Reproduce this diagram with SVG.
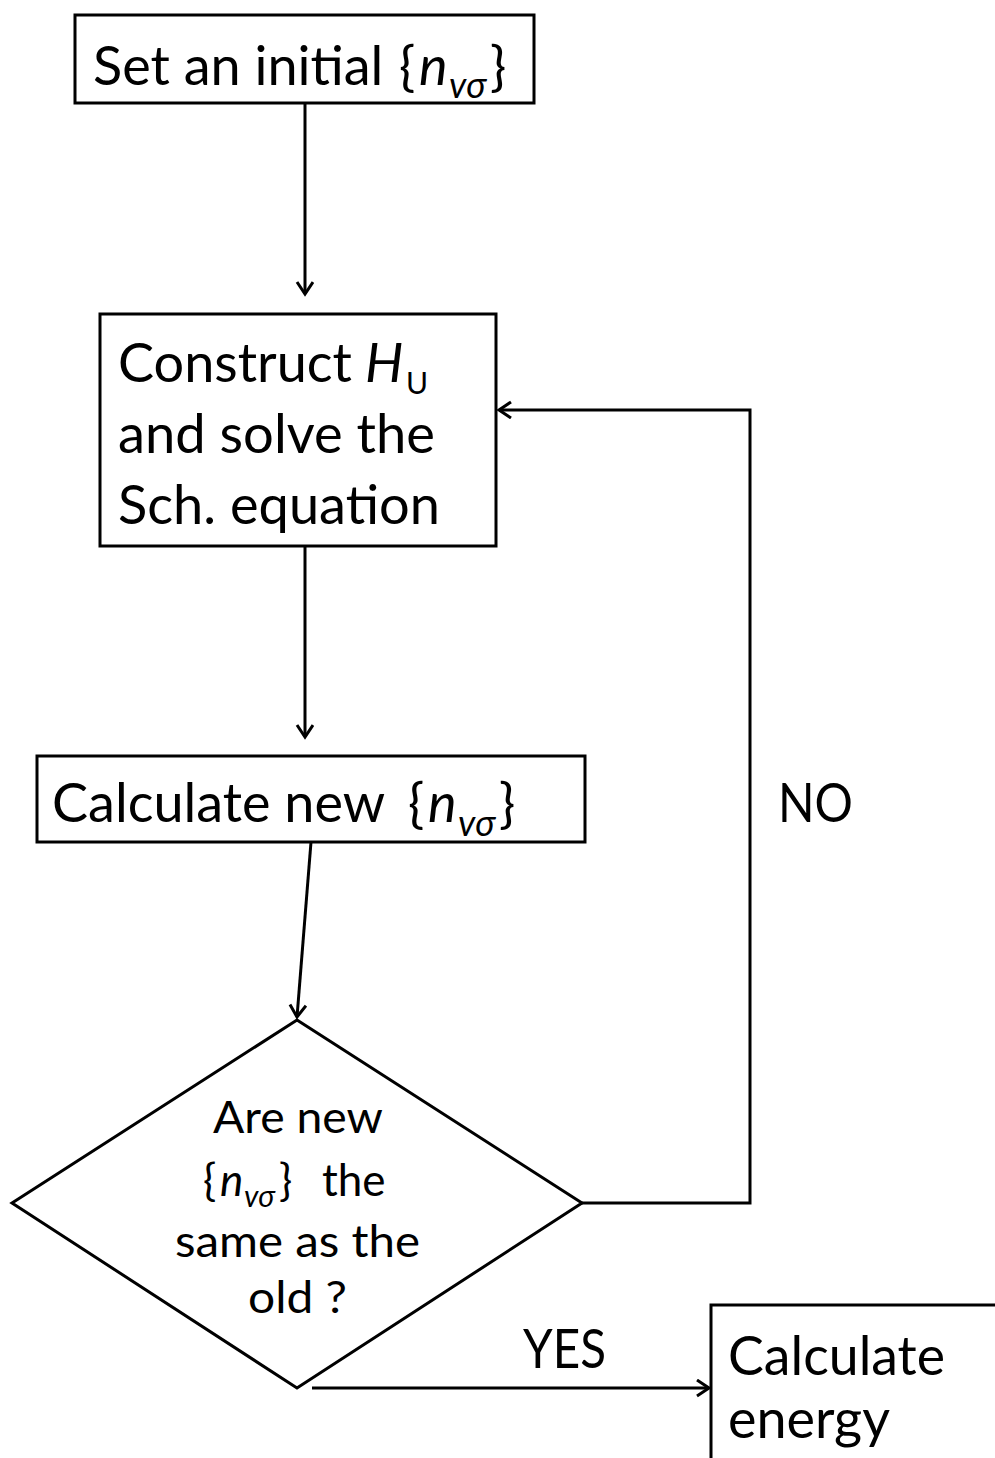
<svg xmlns="http://www.w3.org/2000/svg" width="995" height="1458" viewBox="0 0 995 1458">
<defs>
<style>
.box{fill:#fff;stroke:#000;stroke-width:3}
.ln{fill:none;stroke:#000;stroke-width:3}
.t{font-family:Lato,"Open Sans","Liberation Sans",sans-serif;font-size:54px;fill:#000}
.d{font-family:Lato,"Open Sans","Liberation Sans",sans-serif;font-size:44px;fill:#000}
.i{font-style:italic}
.s1{font-size:36px}
.s2{font-size:30px}
</style>
<marker id="ah" markerWidth="20" markerHeight="20" refX="15" refY="9" orient="auto" markerUnits="userSpaceOnUse">
<path d="M3,1 L15,9 L3,17" fill="none" stroke="#000" stroke-width="3"/>
</marker>
</defs>
<rect width="995" height="1458" fill="#fff"/>
<g id="connectors">
<line class="ln" x1="305" y1="103" x2="305" y2="294" marker-end="url(#ah)"/>
<line class="ln" x1="305" y1="546" x2="305" y2="737" marker-end="url(#ah)"/>
<line class="ln" x1="311" y1="842" x2="297" y2="1017" marker-end="url(#ah)"/>
<polyline class="ln" points="582,1203 750,1203 750,410 499,410" marker-end="url(#ah)"/>
<line class="ln" x1="312" y1="1388" x2="709" y2="1388" marker-end="url(#ah)"/>
<text class="t" x="778" y="822" textLength="75" lengthAdjust="spacingAndGlyphs">NO</text>
<text class="t" x="523" y="1368" textLength="83" lengthAdjust="spacingAndGlyphs">YES</text>
</g>
<g id="n1">
<rect class="box" x="75" y="15" width="459" height="88"/>
<text class="t" x="93" y="85"><tspan x="93">Set an initial</tspan><tspan x="399">{</tspan><tspan class="i" x="419">n</tspan><tspan class="i s1" x="449" y="98">vσ</tspan><tspan x="490" y="85">}</tspan></text>
</g>
<g id="n2">
<rect class="box" x="100" y="314" width="396" height="232"/>
<text class="t" x="118" y="382"><tspan x="118">Construct</tspan><tspan class="i" x="365">H</tspan><tspan class="s2" x="406" y="394">U</tspan></text>
<text class="t" x="118" y="453" textLength="317" lengthAdjust="spacingAndGlyphs">and solve the</text>
<text class="t" x="118" y="524" textLength="322" lengthAdjust="spacingAndGlyphs">Sch. equation</text>
</g>
<g id="n3">
<rect class="box" x="37" y="756" width="548" height="86"/>
<text class="t" x="52" y="822"><tspan x="52">Calculate new</tspan><tspan x="408">{</tspan><tspan class="i" x="428">n</tspan><tspan class="i s1" x="458" y="836">vσ</tspan><tspan x="499" y="822">}</tspan></text>
</g>
<g id="n4">
<polygon class="box" points="297,1020 582,1203 297,1388 12,1203"/>
<text class="d" x="213" y="1133" textLength="170" lengthAdjust="spacingAndGlyphs">Are new</text>
<text class="d" x="203" y="1196"><tspan x="203">{</tspan><tspan class="i" x="220">n</tspan><tspan class="i s2" x="244" y="1207">vσ</tspan><tspan x="279" y="1196">}</tspan><tspan x="322">the</tspan></text>
<text class="d" x="175" y="1257" textLength="245" lengthAdjust="spacingAndGlyphs">same as the</text>
<text class="d" x="248" y="1313" textLength="99" lengthAdjust="spacingAndGlyphs">old ?</text>
</g>
<g id="n5">
<rect class="box" x="711" y="1305" width="300" height="200"/>
<text class="t" x="728" y="1375" textLength="217" lengthAdjust="spacingAndGlyphs">Calculate</text>
<text class="t" x="728" y="1438" textLength="162" lengthAdjust="spacingAndGlyphs">energy</text>
</g>
</svg>
